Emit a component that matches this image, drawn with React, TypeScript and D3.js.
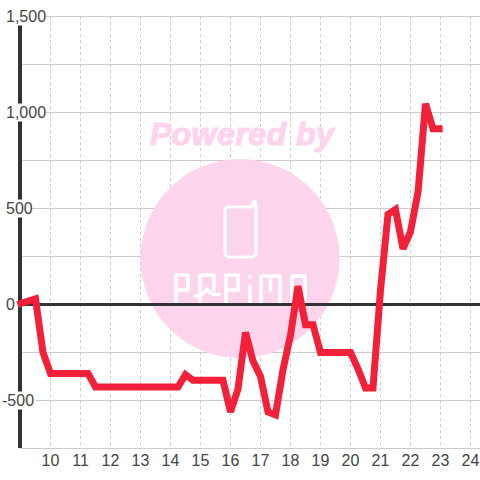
import React from "react";
import * as d3 from "d3";

const hours = [8.9, 9.5, 9.75, 10, 11.25, 11.5, 14.25, 14.5, 14.75, 15.75, 16, 16.25, 16.5, 16.75, 17, 17.25, 17.5, 17.75, 18, 18.25, 18.5, 18.75, 19, 20, 20.25, 20.5, 20.75, 21, 21.25, 21.5, 21.75, 22, 22.25, 22.5, 22.75, 23.07];
const values = [0, 30, -250, -360, -360, -430, -430, -365, -395, -395, -560, -440, -145, -295, -375, -560, -575, -340, -160, 95, -105, -105, -250, -250, -335, -435, -435, 75, 470, 495, 290, 380, 585, 1045, 915, 915];
const yTicks = [-750, -500, -250, 0, 250, 500, 750, 1000, 1250, 1500];
const yLabels = ["-500", "0", "500", "1,000", "1,500"];
const yLabelValues = [-500, 0, 500, 1000, 1500];
const xTicks = [10, 11, 12, 13, 14, 15, 16, 17, 18, 19, 20, 21, 22, 23, 24];

const x = d3.scaleLinear().domain([10, 24]).range([50.5, 470.5]);
const y = d3.scaleLinear().domain([0, 1500]).range([304.5, 16.5]);
const line = d3.line<number>().x((_, i) => x(hours[i])).y((d) => y(d));
const FONT = "'Liberation Sans', Arial, sans-serif";

export default function App() {
  return (
    <svg width={480} height={480} style={{ position: "absolute", left: 0, top: 0, background: "#fff" }}>
      {xTicks.map((t) => (
        <line key={t} x1={x(t)} x2={x(t)} y1={16} y2={448} stroke="#ccc" strokeWidth={1} strokeDasharray="3 3" />
      ))}
      {yTicks.filter((t) => t !== 0).map((t) => (
        <line key={t} x1={20} x2={480} y1={y(t)} y2={y(t)} stroke="#ccc" strokeWidth={1} />
      ))}
      <circle cx={240} cy={258.5} r={99.5} fill="#fcd5ed" />
      <text x={242} y={145} textAnchor="middle" fontFamily={FONT} fontWeight="bold" fontStyle="italic" fontSize={32} stroke="#fcd5ed" strokeWidth={1.2} fill="#fcd5ed" letterSpacing={0.5}>Powered by</text>
      <path fill="none" stroke="#fff" strokeWidth={3} strokeLinejoin="round" strokeLinecap="round" d="M229 207 H250 Q253 207 253 204 V203 Q254.5 200 256 203 V252 Q256 257 251 257 H230 Q225 257 225 252 V211 Q225 207 229 207 Z" />
      <g fill="none" stroke="#fff" strokeWidth={3.5} strokeLinecap="round" strokeLinejoin="round">
        <path d="M176 303 V275 H188 V290 H176" />
        <path d="M200 275 H214 V290 M200 275 V303 M195 296 Q203 296 207 289 Q212 296 219 294" />
        <path d="M226 303 V275 H238 V290 H226" />
        <path d="M250 286 V303 M250 276 V277" />
        <path d="M261 303 V276 H280 V303 M270.5 276 V290" />
        <path d="M292 303 V276 H305 V303" />
      </g>
      <line x1={20} x2={20} y1={24} y2={448} stroke="#333" strokeWidth={4} />
      <line x1={20} x2={480} y1={304.5} y2={304.5} stroke="#333" strokeWidth={3} />
      {yLabelValues.map((v, i) => (
        <g key={v}>
          <rect x={v < 0 ? 1 : 5} y={y(v) - 9} width={yLabels[i].length * 8.2 - (yLabels[i].includes(",") ? 3 : 0) + 2} height={18} fill="#fff" />
          <text x={v < 0 ? 2 : 6} y={y(v) + 5} fontFamily={FONT} fontSize={16} fill="#444">{yLabels[i]}</text>
        </g>
      ))}
      {xTicks.map((t) => (
        <text key={t} x={x(t)} y={466} textAnchor="middle" fontFamily={FONT} fontSize={16} fill="#444">{t}</text>
      ))}
      <path d={line(values) ?? ""} fill="none" stroke="#f22038" strokeWidth={7} strokeLinejoin="miter" strokeMiterlimit={2} />
    </svg>
  );
}
